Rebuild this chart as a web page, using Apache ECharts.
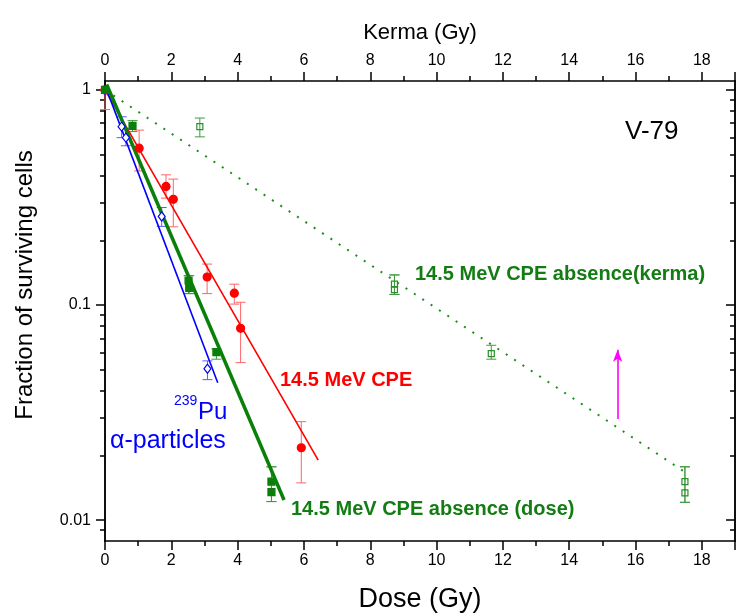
<!DOCTYPE html>
<html>
<head>
<meta charset="utf-8">
<script src="https://cdn.jsdelivr.net/npm/echarts@6/dist/echarts.min.js"></script>
<style>
html, body { margin: 0; padding: 0; background: #fff; }
#chart { width: 738px; height: 615px; }
</style>
</head>
<body>
<div id="chart"></div>
<script>
// fitted lines: start and end point
var puLine = [[0, 1.05], [3.4, 0.0435]];
var doseLine = [[0.05, 1.06], [5.4, 0.0124]];
var cpeLine = [[0, 1.0], [6.43, 0.019]];
var kermaLine = [[0, 1.0], [17.5, 0.0167]];

// measured points: [dose, fraction, low, high]
var puPoints = [[0, 1.0, null, null], [0.5, 0.675, 0.6, 0.75], [0.63, 0.6, 0.55, 0.66], [1.71, 0.258, 0.232, 0.284], [3.09, 0.0506, 0.045, 0.055]];
var dosePoints = [[0, 1.0, null, null], [0.83, 0.68, 0.64, 0.72], [2.52, 0.13, 0.113, 0.137], [2.54, 0.12, 0.113, 0.137], [3.36, 0.0604, 0.056, 0.0625], [5.02, 0.0151, 0.0122, 0.0177], [5.02, 0.0135, 0.0122, 0.0177]];
var cpePoints = [[0, 1.0, 0.81, 1.0], [1.03, 0.536, 0.42, 0.65], [1.84, 0.356, 0.314, 0.403], [2.06, 0.31, 0.231, 0.385], [3.08, 0.135, 0.113, 0.155], [3.9, 0.1135, 0.101, 0.125], [4.09, 0.078, 0.054, 0.103], [5.92, 0.0217, 0.0149, 0.0287]];
var kermaPoints = [[2.86, 0.675, 0.605, 0.74], [8.73, 0.125, 0.112, 0.138], [8.73, 0.118, 0.112, 0.138], [11.65, 0.0594, 0.056, 0.065], [17.49, 0.0151, 0.0121, 0.0177], [17.49, 0.0134, 0.0121, 0.0177]];
var arrowPts = [[15.46, 0.0295], [15.46, 0.062]];

var yMajor = [0.01, 0.1, 1];
var yMinor = [0.009, 0.02, 0.03, 0.04, 0.05, 0.06, 0.07, 0.08, 0.09, 0.2, 0.3, 0.4, 0.5, 0.6, 0.7, 0.8, 0.9];

var fontFam = '"Liberation Sans", Arial, sans-serif';

function errorBars(data, color) {
  return {
    type: 'custom',
    data: data.filter(function (d) { return d[2] != null; }).map(function (d) { return [d[0], d[2], d[3]]; }),
    encode: { x: 0, y: [1, 2] },
    z: 2,
    silent: true,
    renderItem: function (params, api) {
      var lo = api.coord([api.value(0), api.value(1)]);
      var hi = api.coord([api.value(0), api.value(2)]);
      var w = 5;
      var st = { stroke: color, lineWidth: 1, fill: null };
      return {
        type: 'group',
        children: [
          { type: 'line', shape: { x1: hi[0], y1: hi[1], x2: lo[0], y2: lo[1] }, style: st },
          { type: 'line', shape: { x1: hi[0] - w, y1: hi[1], x2: hi[0] + w, y2: hi[1] }, style: st },
          { type: 'line', shape: { x1: lo[0] - w, y1: lo[1], x2: lo[0] + w, y2: lo[1] }, style: st }
        ]
      };
    }
  };
}

function fitLine(data, color, width, type) {
  return {
    type: 'line',
    data: data,
    symbol: 'none',
    silent: true,
    z: 3,
    lineStyle: { color: color, width: width, type: type || 'solid' }
  };
}

function points(data, symbol, size, fill, border) {
  return {
    type: 'scatter',
    data: data.map(function (d) { return [d[0], d[1]]; }),
    symbol: symbol,
    symbolSize: size,
    z: 4,
    itemStyle: { color: fill, borderColor: border, borderWidth: 1.2, opacity: 1 }
  };
}

function xAx(pos) {
  return {
    type: 'value', position: pos, min: 0, max: 19, interval: 2,
    axisLine: { show: true, onZero: false, lineStyle: { color: '#000', width: 1.5 } },
    axisTick: { show: true, inside: false, length: 9, lineStyle: { color: '#000', width: 1.5 } },
    minorTick: { show: true, splitNumber: 2, length: 5, lineStyle: { color: '#000', width: 1.5 } },
    axisLabel: { color: '#000', fontSize: 16, fontFamily: fontFam, margin: 12, showMaxLabel: false },
    splitLine: { show: false }
  };
}

function yAx(pos, major, labels) {
  return {
    type: 'log', logBase: 10, position: pos, min: 0.008, max: 1.1,
    axisLine: { show: true, onZero: false, lineStyle: { color: '#000', width: 1.5 } },
    axisTick: { show: true, inside: pos === 'right', length: major ? 9 : 5, customValues: major ? yMajor : yMinor, lineStyle: { color: '#000', width: 1.5 } },
    axisLabel: { show: labels, customValues: yMajor, color: '#000', fontSize: 16, fontFamily: fontFam, margin: 14,
      formatter: function (v) { return String(v); } },
    splitLine: { show: false }
  };
}

var chart = echarts.init(document.getElementById('chart'));
chart.setOption({
  backgroundColor: '#fff',
  animation: false,
  grid: { left: 105, right: 3, top: 81, bottom: 74 },
  xAxis: [xAx('bottom'), xAx('top')],
  yAxis: [yAx('left', true, true), yAx('left', false, false), yAx('right', true, false), yAx('right', false, false)],
  series: [
    errorBars(cpePoints, '#ff6464'),
    errorBars(puPoints, '#5c5cff'),
    errorBars(dosePoints, '#3f9a3f'),
    errorBars(kermaPoints, '#3f9a3f'),
    fitLine(kermaLine, '#1a8f1a', 2, [2, 8]),
    fitLine(cpeLine, '#ff0000', 1.6),
    fitLine(puLine, '#0000ff', 1.6),
    fitLine(doseLine, '#0a800a', 3.5),
    points(cpePoints, 'circle', 8, '#ff0000', '#ff0000'),
    points(puPoints, 'diamond', [7, 9], '#ffffff', '#0000ff'),
    points(dosePoints, 'rect', 7, '#0a800a', '#0a800a'),
    points(kermaPoints, 'rect', 6, 'rgba(255,255,255,0)', '#2a8f2a'),
    {
      type: 'line', data: [], silent: true,
      markLine: {
        silent: true, symbol: ['none', 'arrow'], symbolSize: [7, 12],
        label: { show: false },
        lineStyle: { color: '#ff00ff', width: 1.6, type: 'solid' },
        data: [[{ coord: arrowPts[0] }, { coord: arrowPts[1] }]]
      }
    }
  ],
  graphic: [
    { type: 'text', x: 420, y: 33, style: { text: 'Kerma (Gy)', font: '22px ' + fontFam, fill: '#000', align: 'center', verticalAlign: 'middle' } },
    { type: 'text', x: 420, y: 600, style: { text: 'Dose (Gy)', font: '27px ' + fontFam, fill: '#000', align: 'center', verticalAlign: 'middle' } },
    { type: 'text', x: 25, y: 285, rotation: Math.PI / 2, style: { text: 'Fraction of surviving cells', font: '24px ' + fontFam, fill: '#000', align: 'center', verticalAlign: 'middle' } },
    { type: 'text', x: 625, y: 132, style: { text: 'V-79', font: '26px ' + fontFam, fill: '#000', align: 'left', verticalAlign: 'middle' } },
    { type: 'text', x: 415, y: 274, style: { text: '14.5 MeV CPE absence(kerma)', font: 'bold 20px ' + fontFam, fill: '#137c13', align: 'left', verticalAlign: 'middle' } },
    { type: 'text', x: 280, y: 380, style: { text: '14.5 MeV CPE', font: 'bold 20px ' + fontFam, fill: '#ff0000', align: 'left', verticalAlign: 'middle' } },
    { type: 'text', x: 291, y: 509, style: { text: '14.5 MeV CPE absence (dose)', font: 'bold 20px ' + fontFam, fill: '#137c13', align: 'left', verticalAlign: 'middle' } },
    { type: 'text', x: 174, y: 401, style: { text: '239', font: '14px ' + fontFam, fill: '#0000ff', align: 'left', verticalAlign: 'middle' } },
    { type: 'text', x: 198, y: 412, style: { text: 'Pu', font: '24px ' + fontFam, fill: '#0000ff', align: 'left', verticalAlign: 'middle' } },
    { type: 'text', x: 110, y: 441, style: { text: 'α-particles', font: '25px ' + fontFam, fill: '#0000ff', align: 'left', verticalAlign: 'middle' } }
  ]
});
</script>
</body>
</html>
